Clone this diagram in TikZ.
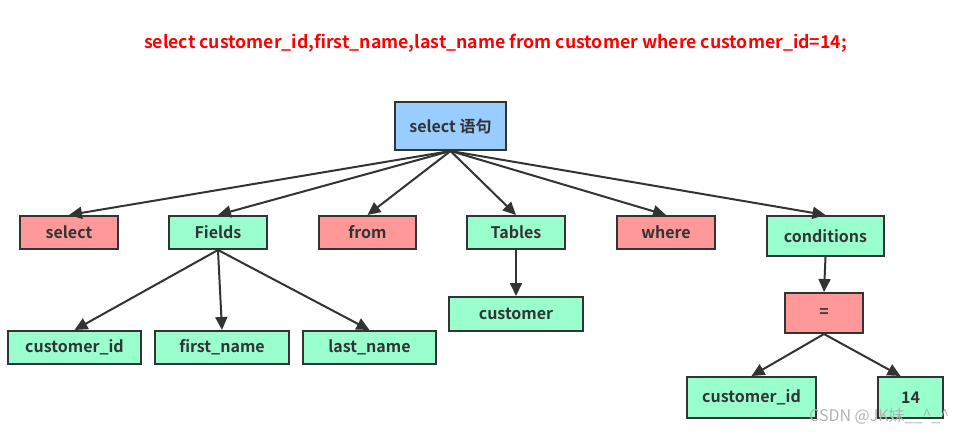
\documentclass[tikz,border=0pt]{standalone}
\usepackage{fontspec}
\setmainfont{Noto Sans CJK SC}[BoldFont={Noto Sans CJK SC Bold}]
\usetikzlibrary{arrows.meta}
\definecolor{lineC}{HTML}{333333}
\definecolor{blueC}{HTML}{99CCFF}
\definecolor{redC}{HTML}{FF9999}
\definecolor{greenC}{HTML}{99FFCC}
\definecolor{titleC}{HTML}{FF0000}
\tikzset{
  box/.style={draw=lineC, line width=2pt, text=lineC, font=\fontsize{16}{19}\selectfont\bfseries, inner sep=0pt, anchor=center},
  rootbox/.style={box, fill=blueC},
  kwbox/.style={box, fill=redC},
  itembox/.style={box, fill=greenC},
  conn/.style={draw=lineC, line width=2pt, -{Triangle[length=13pt,width=12pt]}},
}
\begin{document}
\begin{tikzpicture}[x=1pt,y=-1pt]
\useasboundingbox (0,0) rectangle (965,435);
\node[text=titleC, font=\fontsize{17.7}{21}\selectfont\bfseries] (title) at (495.5,43) {select customer\_id,first\_name,last\_name from customer where customer\_id=14;};
\node[rootbox, minimum width=111pt, minimum height=48pt] (root) at (450.5,126) {select 语句};
\node[kwbox, minimum width=98pt, minimum height=33pt] (sel) at (69,232.5) {select};
\node[itembox, minimum width=98pt, minimum height=33pt] (fields) at (218,232.5) {Fields};
\node[kwbox, minimum width=97pt, minimum height=33pt] (from) at (367.5,232.5) {from};
\node[itembox, minimum width=98pt, minimum height=33pt] (tables) at (516,232.5) {Tables};
\node[kwbox, minimum width=98pt, minimum height=33pt] (where) at (666,232.5) {where};
\node[itembox, minimum width=117pt, minimum height=40pt] (cond) at (825.5,236) {conditions};
\node[itembox, minimum width=134pt, minimum height=34pt] (cust) at (516,314) {customer};
\node[itembox, minimum width=133pt, minimum height=33pt] (cid) at (74.5,347.5) {customer\_id};
\node[itembox, minimum width=134pt, minimum height=33pt] (fname) at (222,347.5) {first\_name};
\node[itembox, minimum width=133pt, minimum height=33pt] (lname) at (369.5,347.5) {last\_name};
\node[kwbox, minimum width=78pt, minimum height=40pt] (eq) at (824,313) {=};
\node[itembox, minimum width=129pt, minimum height=41pt] (cid2) at (751.5,397.5) {customer\_id};
\node[itembox, minimum width=65pt, minimum height=41pt] (num) at (910.5,397.5) {14};
\draw[conn] (root.south) -- (sel.north);
\draw[conn] (root.south) -- (fields.north);
\draw[conn] (root.south) -- (from.north);
\draw[conn] (root.south) -- (tables.north);
\draw[conn] (root.south) -- (where.north);
\draw[conn] (root.south) -- (cond.north);
\draw[conn] (fields.south) -- (cid.north);
\draw[conn] (fields.south) -- (fname.north);
\draw[conn] (fields.south) -- (lname.north);
\draw[conn] (tables.south) -- (cust.north);
\draw[conn] (cond.south) -- (eq.north);
\draw[conn] (eq.south) -- (cid2.north);
\draw[conn] (eq.south) -- ([xshift=-10pt]num.north);
\node[text=black!30, font=\fontsize{16}{18}\selectfont, anchor=west, inner sep=0pt] (wm) at (809,416) {CSDN @JK妹\_\_\textasciicircum\_\textasciicircum};
\end{tikzpicture}
\end{document}
